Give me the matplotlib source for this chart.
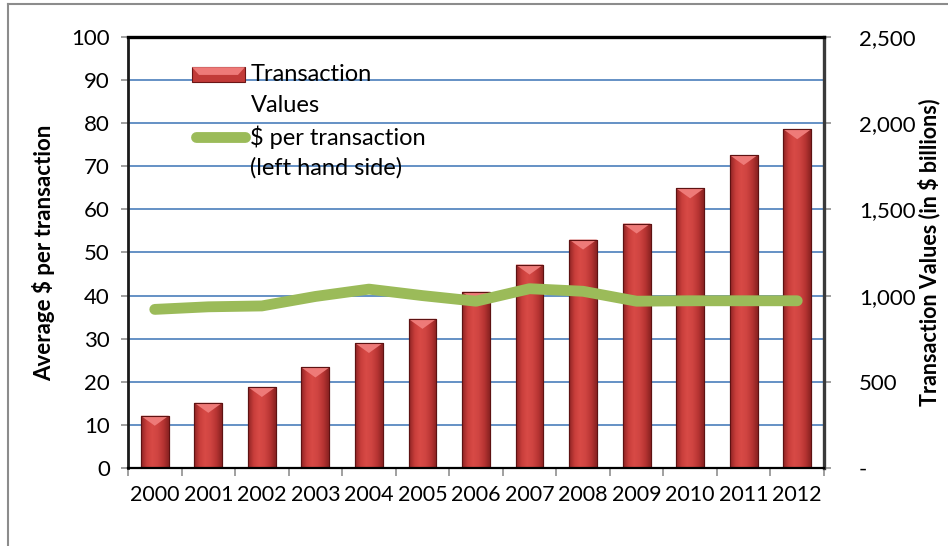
import numpy as np
import matplotlib
matplotlib.use("Agg")
import matplotlib.pyplot as plt
from matplotlib.lines import Line2D
from matplotlib.patches import Polygon, Rectangle
from matplotlib.colors import LinearSegmentedColormap
from matplotlib.ticker import FuncFormatter, MultipleLocator, FixedLocator
from matplotlib import font_manager

plt.rcParams['font.family'] = ['Lato', 'DejaVu Sans']

years = ['2000', '2001', '2002', '2003', '2004', '2005', '2006',
         '2007', '2008', '2009', '2010', '2011', '2012']
transaction_values = [303, 378, 470, 583, 725, 865, 1022,
                      1180, 1325, 1418, 1622, 1815, 1965]
dollars_per_transaction = [36.8, 37.4, 37.6, 39.8, 41.5, 40.0, 38.7,
                           41.6, 41.0, 38.7, 38.8, 38.8, 38.8]

installed = {f.name for f in font_manager.fontManager.ttflist}
year_family = ['Liberation Sans Narrow', 'Lato'] if 'Liberation Sans Narrow' in installed else ['Lato']
year_size = 17 if 'Liberation Sans Narrow' in installed else 15.5

fig = plt.figure(figsize=(9.48, 5.46), dpi=100)
ax = fig.add_axes([128/948, 1-468/546, 696/948, 431/546])
ax2 = ax.twinx()

x = np.arange(len(years))

# left axis setup
ax.set_xlim(-0.5, len(years)-0.5)
ax.set_ylim(0, 100)
ax.yaxis.set_major_locator(MultipleLocator(10))
for v in range(10, 100, 10):
    ax.axhline(v, color='#4A7EBB', lw=1.2, zorder=0)
ax.set_xticks(x)
ax.set_xticklabels(years, fontsize=year_size, family=year_family)
ax.xaxis.set_minor_locator(FixedLocator(np.arange(-0.5, len(years), 1.0)))
ax.tick_params(axis='x', which='major', length=0, pad=12)
ax.tick_params(axis='x', which='minor', length=6, color='#909090', width=1.2, direction='out')
ax.tick_params(axis='y', which='major', length=5, color='#909090', width=1.2, labelsize=16, pad=8)
ax.set_ylabel('Average $ per transaction', fontsize=16, fontweight='bold', labelpad=12)

# right axis setup
ax2.set_ylim(0, 2500)
ax2.yaxis.set_major_locator(MultipleLocator(500))
ax2.yaxis.set_major_formatter(FuncFormatter(lambda v, p: '-' if v == 0 else f'{int(v):,}'))
ax2.tick_params(axis='y', length=5, color='#909090', width=1.2, labelsize=16, pad=20)
ax2.set_ylabel('Transaction Values (in $ billions)', fontsize=15.5, fontweight='bold',
               rotation=90, labelpad=2)
for t in ax2.get_yticklabels():
    t.set_horizontalalignment('left')

for a in (ax, ax2):
    for s in a.spines.values():
        s.set_visible(False)
ax2.spines['top'].set_visible(True); ax2.spines['top'].set_linewidth(2.4); ax2.spines['top'].set_color('black')
ax2.spines['left'].set_visible(True); ax2.spines['left'].set_linewidth(2.0); ax2.spines['left'].set_color('#1a1a1a')
ax2.spines['right'].set_visible(True); ax2.spines['right'].set_linewidth(2.4); ax2.spines['right'].set_color('#3a3a3a')
ax2.spines['bottom'].set_visible(True); ax2.spines['bottom'].set_linewidth(1.6); ax2.spines['bottom'].set_color('black')

# bars
bars = ax2.bar(x, transaction_values, width=0.52, color='#C23B38',
               edgecolor='#6B1515', linewidth=0.8, zorder=2)
cmap = LinearSegmentedColormap.from_list('barg', ['#8E2424', '#C93E3B', '#D84A46', '#CF4441', '#B83533', '#8A2222'])
grad = np.linspace(0, 1, 64).reshape(1, -1)
bevel = 58.0
for p in bars:
    x0, w, h = p.get_x(), p.get_width(), p.get_height()
    im = ax2.imshow(grad, extent=[x0, x0+w, 0, h], aspect='auto', cmap=cmap,
                    zorder=2.1, interpolation='bicubic')
    im.set_clip_path(p)
    tri = Polygon([[x0, h], [x0+w, h], [x0+w*0.5, h-bevel]], closed=True,
                  facecolor='#EE7A78', edgecolor='none', zorder=2.2)
    ax2.add_patch(tri)
    edge = Rectangle((x0, 0), w, h, facecolor='none', edgecolor='#5E1212', lw=0.8, zorder=2.3)
    ax2.add_patch(edge)
ax2.set_xlim(-0.5, len(years)-0.5)
ax2.set_ylim(0, 2500)

# line (drawn on top axes using left-axis data coordinates)
ax2.plot(x, dollars_per_transaction, color='#9BBB59', lw=7.8,
         solid_capstyle='round', solid_joinstyle='round', zorder=4,
         transform=ax.transData)

# legend (manual, Excel style)
ax2.add_patch(Rectangle((0.092, 0.896), 0.076, 0.034, transform=ax2.transAxes,
                        facecolor='#C23B38', edgecolor='#6B1515', lw=0.8, zorder=5))
ax2.add_patch(Polygon([[0.092, 0.930], [0.168, 0.930], [0.158, 0.912], [0.102, 0.912]],
                      closed=True, transform=ax2.transAxes, facecolor='#EE7A78',
                      edgecolor='none', zorder=5.1))
ax2.add_line(Line2D([0.098, 0.168], [0.768, 0.768], transform=ax2.transAxes,
                    color='#9BBB59', lw=7.8, solid_capstyle='round', zorder=5))
tx = 0.176
fs = 17
ax2.text(tx, 0.912, 'Transaction', transform=ax2.transAxes, fontsize=fs, va='center', zorder=6)
ax2.text(tx, 0.842, 'Values', transform=ax2.transAxes, fontsize=fs, va='center', zorder=6)
ax2.text(tx, 0.768, '$ per transaction', transform=ax2.transAxes, fontsize=fs, va='center', zorder=6)
ax2.text(tx, 0.696, '(left hand side)', transform=ax2.transAxes, fontsize=fs, va='center', zorder=6)

# outer frame lines (top and left)
fig.add_artist(Line2D([8/948, 8/948], [0, 1-4/546], color='#8c8c8c', lw=1.5))
fig.add_artist(Line2D([8/948, 1], [1-4/546, 1-4/546], color='#8c8c8c', lw=1.5))

fig.savefig('out.png', dpi=100)
